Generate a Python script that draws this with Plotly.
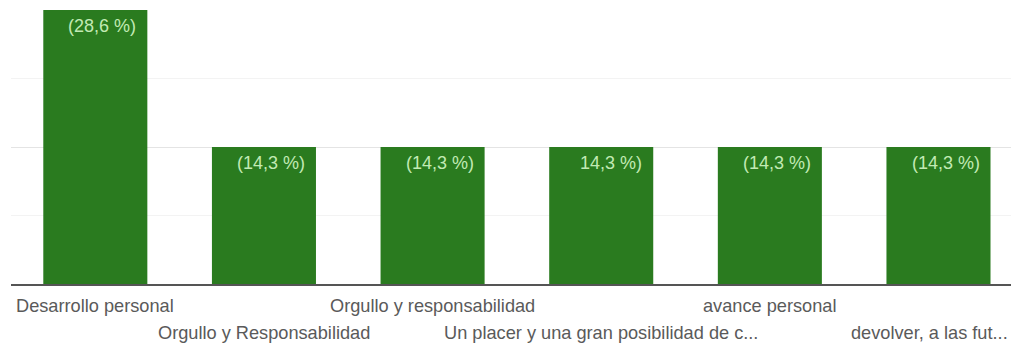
import plotly.graph_objects as go

# Survey answers and the share of respondents for each one
categories = [
    "Desarrollo personal",
    "Orgullo y Responsabilidad",
    "Orgullo y responsabilidad",
    "Un placer y una gran posibilidad de c...",
    "avance personal",
    "devolver, a las fut...",
]
percentages = [28.6, 14.3, 14.3, 14.3, 14.3, 14.3]
bar_labels = ["(28,6 %)", "(14,3 %)", "(14,3 %)", "14,3 %)", "(14,3 %)", "(14,3 %)"]

BAR_COLOR = "#2a7b1f"
LABEL_COLOR = "#c2eab4"
TEXT_COLOR = "#5a5a5a"
FONT = "Arial, Liberation Sans, sans-serif"

x_pos = list(range(len(categories)))
fig = go.Figure(
    go.Bar(
        x=x_pos,
        y=percentages,
        marker=dict(color=BAR_COLOR, line=dict(width=0)),
        hoverinfo="skip",
    )
)

bar_width = 0.617
n = len(categories)
annotations = []
for i, (val, lab) in enumerate(zip(percentages, bar_labels)):
    # value label in the top-right corner of each bar
    annotations.append(dict(
        x=i + bar_width / 2, y=val, xref="x", yref="y",
        text=lab, showarrow=False, xanchor="right", yanchor="top",
        xshift=-9, yshift=-4,
        font=dict(family=FONT, size=18, color=LABEL_COLOR),
    ))
    # category names staggered over two rows; the last one is kept inside the frame
    row = i % 2
    annotations.append(dict(
        x=i, y=0, xref="x", yref="y",
        text=categories[i], showarrow=False, xanchor="center", yanchor="middle",
        xshift=-9 if i == n - 1 else 0,
        yshift=-22 if row == 0 else -49,
        font=dict(family=FONT, size=18.2, color=TEXT_COLOR),
    ))

fig.update_layout(
    width=1011, height=347,
    margin=dict(l=11, r=0, t=10, b=63),
    paper_bgcolor="white", plot_bgcolor="white",
    bargap=1 - bar_width,
    showlegend=False,
    annotations=annotations,
    xaxis=dict(
        range=[-0.5, 5.43], showticklabels=False, showgrid=False,
        zeroline=False, showline=True, linecolor="#555555", linewidth=1.5,
        fixedrange=True,
    ),
    yaxis=dict(
        range=[0, 28.6], tickvals=[0, 14.3, 28.6], showticklabels=False,
        showgrid=True, gridcolor="#e4e4e4", gridwidth=1,
        zeroline=False, showline=False, fixedrange=True,
        minor=dict(tick0=0, dtick=7.15, showgrid=True, gridcolor="#f3f3f3", gridwidth=1),
    ),
)

fig.write_html("out.html", config={"displayModeBar": False})
